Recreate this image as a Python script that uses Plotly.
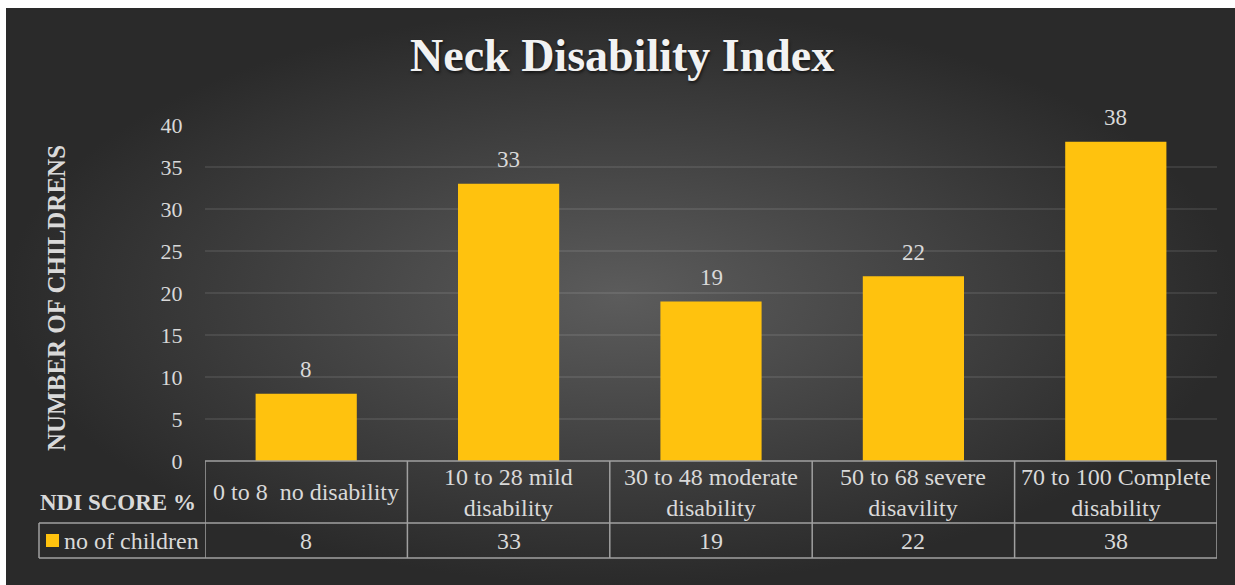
import plotly.graph_objects as go

# ---- data ----
categories = ["0 to 8  no disability", "10 to 28 mild disability", "30 to 48 moderate disability",
              "50 to 68 severe disavility", "70 to 100 Complete disability"]
header_labels = ["0 to 8  no disability", "10 to 28 mild<br>disability", "30 to 48 moderate<br>disability",
                 "50 to 68 severe<br>disavility", "70 to 100 Complete<br>disability"]
values = [8, 33, 19, 22, 38]
series_name = "no of children"
y_ticks = [0, 5, 10, 15, 20, 25, 30, 35, 40]
title_text = "Neck Disability Index"
y_title = "NUMBER OF CHILDRENS"
row_title = "NDI SCORE %"

W, H = 1235, 585
FONT = "Times New Roman"
TXT = "#d9d9d9"
BAR = "#FFC20E"
LINE = "#a0a0a0"

# pixel layout of plot area
PL, PR, PT, PB = 205, 1217, 125, 461
ROW1_B, ROW2_B = 523, 558
LEG_L = 39

fig = go.Figure()

# background (pixel-space axes x/y)
fig.add_trace(go.Scatter(
    x=[6, W, W, 6, 6], y=[8, 8, H, H, 8], mode="lines", fill="toself",
    line=dict(width=0, color="rgba(0,0,0,0)"),
    fillgradient=dict(type="radial", colorscale=[[0, "#5c5c5c"], [1, "#2a2a2a"]]),
    hoverinfo="skip", showlegend=False, xaxis="x", yaxis="y"))

# bars
fig.add_trace(go.Bar(
    x=categories, y=values, marker=dict(color=BAR, line=dict(width=0)),
    name=series_name, showlegend=False, xaxis="x2", yaxis="y2", hoverinfo="skip"))

shapes = []
annotations = []

# data labels
for c, v in zip(categories, values):
    annotations.append(dict(x=c, y=v, xref="x2", yref="y2", text=str(v), showarrow=False,
                            yanchor="middle", yshift=24,
                            font=dict(family=FONT, size=23, color=TXT)))

# table lines
ncat = len(categories)
for i in range(ncat + 1):
    shapes.append(dict(type="line", xref="x2", yref="y", x0=i - 0.5, x1=i - 0.5, y0=PB, y1=ROW2_B,
                       line=dict(color=LINE, width=1.5)))
shapes.append(dict(type="line", xref="x2", yref="y", x0=-0.5, x1=ncat - 0.5, y0=PB, y1=PB,
                   line=dict(color=LINE, width=1.5)))
for yy in (ROW1_B, ROW2_B):
    shapes.append(dict(type="line", xref="x", yref="y", x0=LEG_L, x1=PR, y0=yy, y1=yy,
                       line=dict(color=LINE, width=1.5)))
shapes.append(dict(type="line", xref="x", yref="y", x0=LEG_L, x1=LEG_L, y0=ROW1_B, y1=ROW2_B,
                   line=dict(color=LINE, width=1.5)))
# legend key
shapes.append(dict(type="rect", xref="x", yref="y", x0=46, x1=59, y0=534, y1=547,
                   fillcolor=BAR, line=dict(width=0)))

# header labels and values row
for i, (lab, v) in enumerate(zip(header_labels, values)):
    annotations.append(dict(x=i, y=(PB + ROW1_B) / 2, xref="x2", yref="y", text=lab, showarrow=False,
                            yanchor="middle", font=dict(family=FONT, size=24, color=TXT)))
    annotations.append(dict(x=i, y=(ROW1_B + ROW2_B) / 2, xref="x2", yref="y", text=str(v), showarrow=False,
                            yanchor="middle", font=dict(family=FONT, size=24, color=TXT)))

annotations.append(dict(x=62, y=(ROW1_B + ROW2_B) / 2, xref="x", yref="y", text=series_name, showarrow=False,
                        xanchor="left", yanchor="middle", font=dict(family=FONT, size=24, color=TXT)))
annotations.append(dict(x=198, y=(PB + ROW1_B) / 2 + 10, xref="x", yref="y", text="<b>" + row_title + "</b>",
                        showarrow=False, xanchor="right", yanchor="middle",
                        font=dict(family=FONT, size=23, color=TXT)))
# y-axis title
annotations.append(dict(x=56, y=298, xref="x", yref="y", text="<b>" + y_title + "</b>", showarrow=False,
                        textangle=-90, xanchor="center", yanchor="middle",
                        font=dict(family=FONT, size=25, color=TXT)))
# title
annotations.append(dict(x=622, y=55, xref="x", yref="y", text="<b>" + title_text + "</b>", showarrow=False,
                        xanchor="center", yanchor="middle",
                        font=dict(family=FONT, size=46, color="#f2f2f2",
                                  shadow="1px 2px 3px rgba(0,0,0,0.6)")))

fig.update_layout(
    template="none",
    font=dict(family=FONT, color=TXT),
    width=W, height=H, margin=dict(l=0, r=0, t=0, b=0, pad=0, autoexpand=False),
    paper_bgcolor="white", plot_bgcolor="rgba(0,0,0,0)",
    showlegend=False, bargap=0.5,
    xaxis=dict(domain=[0, 1], range=[0, W], visible=False, fixedrange=True, automargin=False),
    yaxis=dict(domain=[0, 1], range=[H, 0], visible=False, fixedrange=True, automargin=False),
    xaxis2=dict(domain=[PL / W, PR / W], anchor="y2", range=[-0.5, ncat - 0.5], type="category",
                showticklabels=False, showgrid=False, zeroline=False, showline=False, ticks="",
                automargin=False),
    yaxis2=dict(domain=[(H - PB) / H, (H - PT) / H], anchor="x2", range=[0, 40], tickvals=y_ticks,
                showgrid=True, gridcolor="rgba(255,255,255,0.09)", gridwidth=1.5, zeroline=False,
                showline=False, ticks="outside", ticklen=17, tickcolor="rgba(0,0,0,0)",
                tickfont=dict(family=FONT, size=22, color=TXT), automargin=False),
    shapes=shapes, annotations=annotations,
)

fig.write_html("out.html")
